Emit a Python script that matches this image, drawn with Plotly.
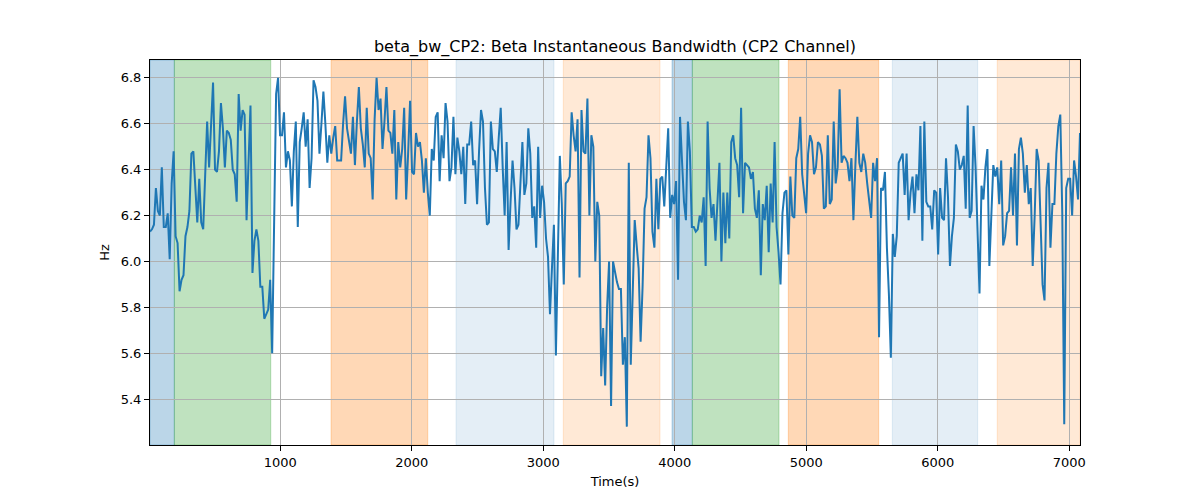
import numpy as np
import plotly.graph_objects as go

title = "beta_bw_CP2: Beta Instantaneous Bandwidth (CP2 Channel)"
t_start, t_end = 9, 7081

values = [
    # segment 1
    6.13, 6.14, 6.16, 6.32, 6.22, 6.20, 6.41, 6.15, 6.15, 6.21, 6.01, 6.34, 6.48, 6.11, 6.08, 5.87, 5.92, 5.94, 6.11, 6.15,
    6.22, 6.47, 6.48, 6.34, 6.17, 6.36, 6.17, 6.14, 6.37, 6.61, 6.41, 6.61, 6.78, 6.40, 6.39, 6.48, 6.69, 6.58, 6.41, 6.57,
    6.56, 6.53, 6.40, 6.38, 6.26, 6.73, 6.57, 6.66, 6.64, 6.18, 6.42, 6.68, 5.95, 6.09, 6.14, 6.09, 5.89, 5.89, 5.75, 5.77,
    5.79, 5.92, 5.60, 6.17, 6.73, 6.80, 6.55, 6.55, 6.65, 6.41, 6.48, 6.44,
    # segment 2
    6.24, 6.48, 6.61, 6.15, 6.52, 6.58, 6.65, 6.50, 6.62, 6.32, 6.45, 6.79, 6.76, 6.70, 6.47, 6.60, 6.74, 6.60, 6.43, 6.55,
    6.47, 6.54, 6.59, 6.44, 6.44, 6.44, 6.60, 6.72, 6.58, 6.53, 6.47, 6.63, 6.42, 6.61, 6.76, 6.58, 6.51, 6.41, 6.67, 6.47,
    6.45, 6.27, 6.62, 6.80, 6.66, 6.71, 6.49, 6.61, 6.76, 6.57, 6.56, 6.47, 6.66, 6.27, 6.52, 6.41, 6.49, 6.67, 6.27, 6.47,
    6.70, 6.39, 6.38, 6.56, 6.50, 6.52, 6.44, 6.30, 6.45, 6.30, 6.20, 6.49, 6.44, 6.63, 6.65, 6.35, 6.55,
    # segment 3
    6.45, 6.69, 6.61, 6.35, 6.41, 6.63, 6.38, 6.54, 6.48, 6.38, 6.50, 6.25, 6.51, 6.51, 6.61, 6.42, 6.44, 6.25, 6.48, 6.66,
    6.61, 6.32, 6.16, 6.17, 6.61, 6.49, 6.48, 6.39, 6.54, 6.67, 6.41, 6.20, 6.52, 6.05, 6.26, 6.44, 6.32, 6.14, 6.16, 6.37,
    6.52, 6.29, 6.34, 6.58, 6.47, 6.19, 6.24, 6.06, 6.50, 6.19, 6.33, 6.26, 6.10, 6.02, 5.77, 5.97, 6.16, 5.59, 5.97, 6.46,
    6.25, 5.90, 6.34, 6.35, 6.37, 6.65, 6.55, 6.48, 6.62, 5.93, 6.66, 6.48, 6.47, 6.71, 6.20,
    # segment 4
    6.55, 6.50, 6.00, 6.26, 6.20, 5.50, 5.71, 5.46, 5.80, 6.00, 5.37, 6.00, 5.95, 5.91, 5.88, 5.88, 5.55, 5.67, 5.28, 6.43,
    5.55, 5.86, 6.18, 6.07, 5.97, 5.65, 5.89, 6.23, 6.28, 6.55, 6.45, 6.13, 6.06, 6.36, 6.14, 6.36, 6.37, 6.24, 6.41, 6.58,
    6.19, 6.29, 6.25, 6.35, 5.92, 6.63, 6.44, 6.26, 6.18, 6.61, 6.48, 6.15, 6.15, 6.13, 6.14, 6.20, 6.17, 6.28, 5.98, 6.61,
    6.32, 6.19, 6.25, 6.09, 6.26, 6.43, 6.00, 6.30, 6.08, 6.30, 6.10, 6.52, 6.55, 6.45, 6.42, 6.28,
    # segment 5
    6.67, 6.21, 6.43, 6.42, 6.41, 6.36, 6.39, 6.23, 6.19, 6.31, 5.94, 6.25, 6.18, 6.33, 6.04, 6.34, 6.17, 6.52, 6.15, 6.04,
    5.90, 6.21, 6.30, 6.31, 6.03, 6.37, 6.20, 6.19, 6.45, 6.49, 6.63, 6.38, 6.29, 6.21, 6.47, 6.55, 6.52, 6.38, 6.41, 6.52,
    6.51, 6.46, 6.23, 6.24, 6.55, 6.25, 6.27, 6.61, 6.34, 6.41, 6.75, 6.43, 6.46, 6.45, 6.43, 6.35, 6.45, 6.18, 6.42, 6.63,
    6.43, 6.39, 6.47, 6.43, 6.34, 6.26, 6.19, 6.43, 6.35, 6.45, 5.67, 6.32, 6.31, 6.39, 6.06, 5.86,
    # segment 6
    5.58, 6.12, 6.02, 6.11, 6.43, 6.45, 6.47, 6.29, 6.47, 6.18, 6.30, 6.37, 6.21, 6.38, 6.31, 6.59, 6.09, 6.61, 6.26, 6.24,
    6.24, 6.14, 6.31, 6.30, 6.03, 6.32, 6.19, 6.18, 6.45, 6.28, 5.98, 6.11, 6.19, 6.51, 6.48, 6.40, 6.42, 6.46, 6.23, 6.68,
    6.19, 6.22, 6.59, 6.41, 6.11, 5.86, 6.33, 6.27, 6.41, 6.49, 5.98, 6.23, 6.42, 6.37, 6.41, 6.25, 6.44, 6.07, 6.11, 6.21,
    6.22, 6.41, 6.20, 6.47, 6.07, 6.49, 6.54, 6.47, 6.30, 6.42, 6.25, 6.32, 5.98, 6.20, 6.49, 6.44, 6.15, 5.90, 5.83, 6.32,
    6.43, 6.06, 6.25, 6.25, 6.47, 6.59, 6.64, 6.21, 5.29, 6.32, 6.36, 6.36, 6.20, 6.44, 6.37, 6.27, 6.56,
]
times = np.linspace(t_start, t_end, len(values))

span_starts = [9, 194, 1386, 2336, 3152, 3979, 4133, 4863, 5654, 6452]
span_ends = [194, 927, 2121, 3081, 3887, 4133, 4792, 5550, 6303, 7081]
span_colors = [
    "rgba(31,119,180,0.3)", "rgba(44,160,44,0.3)", "rgba(255,127,14,0.3)",
    "rgba(31,119,180,0.12)", "rgba(255,127,14,0.17)", "rgba(31,119,180,0.3)",
    "rgba(44,160,44,0.3)", "rgba(255,127,14,0.3)", "rgba(31,119,180,0.12)",
    "rgba(255,127,14,0.17)",
]

x_ticks = [1000, 2000, 3000, 4000, 5000, 6000, 7000]
y_ticks = [5.4, 5.6, 5.8, 6.0, 6.2, 6.4, 6.6, 6.8]

fig = go.Figure()
fig.add_trace(go.Scatter(x=times, y=values, mode="lines",
                         line=dict(color="#1f77b4", width=2), showlegend=False))

for s, e, c in zip(span_starts, span_ends, span_colors):
    fig.add_shape(type="rect", xref="x", yref="paper", x0=s, x1=e, y0=0, y1=1,
                  fillcolor=c, line=dict(color=c, width=1), layer="below")

axis_common = dict(showgrid=True, gridcolor="#b0b0b0", gridwidth=0.8,
                   showline=True, linecolor="black", linewidth=1, mirror=True,
                   ticks="outside", ticklen=5, tickcolor="black", zeroline=False,
                   tickfont=dict(size=13, color="black"))

fig.update_layout(
    width=1200, height=500,
    margin=dict(l=142, r=128, t=52, b=63),
    paper_bgcolor="white", plot_bgcolor="white",
    font=dict(family="DejaVu Sans", color="black"),
    title=dict(text=title, xref="paper", x=0.5, xanchor="center", y=0.912, yanchor="bottom",
               font=dict(size=16, color="black")),
    xaxis=dict(range=[t_start, t_end], tickvals=x_ticks,
               title=dict(text="Time(s)", font=dict(size=13), standoff=8), **axis_common),
    yaxis=dict(range=[5.2, 6.878], tickvals=y_ticks, tickformat=".1f",
               title=dict(text="Hz", font=dict(size=13), standoff=8), **axis_common),
)

fig.write_html("out.html")
